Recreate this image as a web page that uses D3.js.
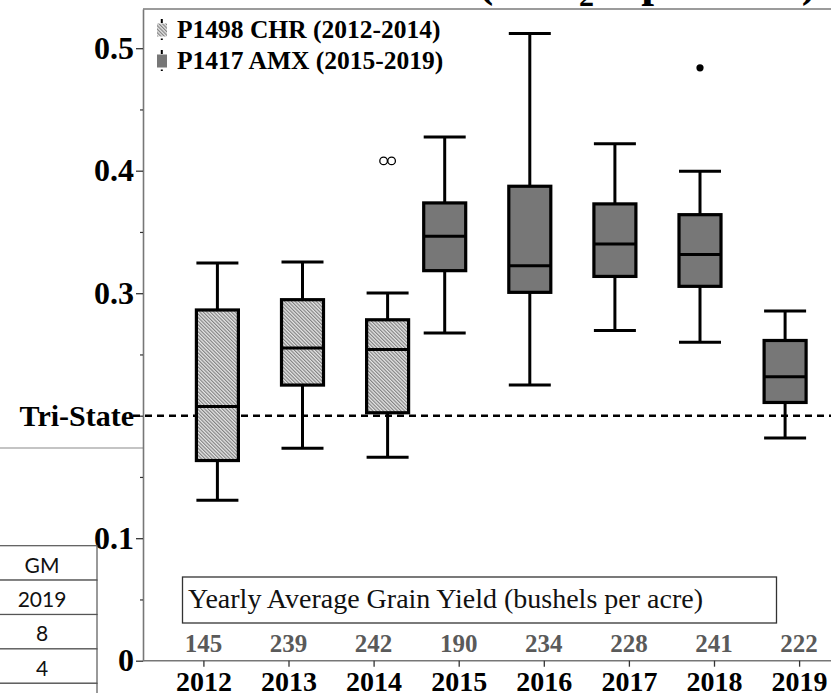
<!DOCTYPE html>
<html>
<head>
<meta charset="utf-8">
<script src="https://cdn.jsdelivr.net/npm/d3@7"></script>
<style>
  html, body { margin: 0; padding: 0; background: #fff; }
  svg { display: block; }
</style>
</head>
<body>
<script>
// ---- data ----
const years = ["2012", "2013", "2014", "2015", "2016", "2017", "2018", "2019"];
const hybrid = ["P1498 CHR", "P1498 CHR", "P1498 CHR", "P1417 AMX", "P1417 AMX", "P1417 AMX", "P1417 AMX", "P1417 AMX"];
const whiskerLow  = [0.131, 0.1735, 0.166, 0.2675, 0.225, 0.2696, 0.260, 0.1817];
const q1          = [0.1634, 0.225, 0.2024, 0.3184, 0.3007, 0.3137, 0.3056, 0.2108];
const median      = [0.2075, 0.2552, 0.2541, 0.3464, 0.3225, 0.3402, 0.3315, 0.2318];
const q3          = [0.2863, 0.2947, 0.2783, 0.3737, 0.3873, 0.3729, 0.3641, 0.2614];
const whiskerHigh = [0.3247, 0.3255, 0.3002, 0.4276, 0.5120, 0.4219, 0.3995, 0.2855];
const outlierYear  = ["2014", "2014", "2018"];
const outlierValue = [0.408, 0.408, 0.484];
const outlierKind  = ["open", "open", "filled"];
const yieldAvg = [145, 239, 242, 190, 234, 228, 241, 222];
const triState = 0.2;
const yMajor = [0, 0.1, 0.2, 0.3, 0.4, 0.5];
const yMinor = [0.05, 0.15, 0.25, 0.35, 0.45];
const hybrids = ["P1417 AMX", "P1498 CHR"];
const legendLabels = ["P1498 CHR (2012-2014)", "P1417 AMX (2015-2019)"];
const tableCells = ["GM", "2019", "8", "4", ""];

// ---- layout ----
const W = 831, H = 693;
const serif = "'Liberation Serif', 'Times New Roman', serif";
const svg = d3.select("body").append("svg").attr("width", W).attr("height", H);

const y = d3.scaleLinear().domain([0, 0.532]).range([660.7, 9]);
const x = d3.scalePoint().domain(years).range([203.4, 799.1]);
const dodge = d3.scalePoint().domain(hybrids).range([-14, 14]);
const boxW = 42;
const plotLeft = 143;

const defs = svg.append("defs");
const hatch = defs.append("pattern")
  .attr("id", "hatch").attr("patternUnits", "userSpaceOnUse")
  .attr("width", 2.5).attr("height", 2.5)
  .attr("patternTransform", "rotate(-45)");
hatch.append("rect").attr("width", 2.5).attr("height", 2.5).attr("fill", "#e6e6e6");
hatch.append("line").attr("x1", 0.6).attr("x2", 0.6).attr("y1", 0).attr("y2", 2.5)
  .attr("stroke", "#7c7c7c").attr("stroke-width", 1.1);

const fillFor = h => h === "P1498 CHR" ? "url(#hatch)" : "#777777";

// panel title, running above the top edge of the panel
svg.append("text")
  .attr("x", 817).attr("y", -4).attr("text-anchor", "end")
  .attr("font-family", serif).attr("font-weight", "bold").attr("font-size", 46)
  .call(t => {
    t.append("tspan").text("(lb K");
    t.append("tspan").attr("font-size", 30).attr("dy", 10).text("2");
    t.append("tspan").attr("dy", -10).text("O per acre)");
  });

// frame lines
svg.append("line").attr("x1", plotLeft).attr("x2", W).attr("y1", 9).attr("y2", 9)
  .attr("stroke", "#7a7a7a").attr("stroke-width", 1.5);
svg.append("line").attr("x1", 0).attr("x2", plotLeft).attr("y1", 448).attr("y2", 448)
  .attr("stroke", "#8a8a8a").attr("stroke-width", 1.2);

// y axis
const yAxis = svg.append("g").attr("transform", `translate(${plotLeft},0)`)
  .call(d3.axisLeft(y).tickValues(yMajor).tickSize(7).tickSizeOuter(0).tickPadding(2)
    .tickFormat(d => d === triState ? "Tri-State" : (d === 0 ? "0" : d3.format(".1f")(d))));
yAxis.select(".domain").attr("stroke", "#777").attr("stroke-width", 1.6);
yAxis.selectAll(".tick line").attr("stroke", "#333").attr("stroke-width", 1.3);
yAxis.selectAll(".tick text").attr("font-family", serif).attr("font-weight", "bold")
  .attr("font-size", d => d === triState ? 30 : 32).attr("fill", "#000");
svg.append("g").attr("transform", `translate(${plotLeft},0)`)
  .call(d3.axisLeft(y).tickValues(yMinor).tickSize(3).tickFormat(""))
  .call(g => g.select(".domain").remove())
  .selectAll(".tick line").attr("stroke", "#333").attr("stroke-width", 1.2);

// x axis
svg.append("line").attr("x1", plotLeft).attr("x2", W).attr("y1", y(0)).attr("y2", y(0))
  .attr("stroke", "#777").attr("stroke-width", 1.6);
const xAxis = svg.append("g").attr("transform", `translate(0,${y(0)})`)
  .call(d3.axisBottom(x).tickSize(6).tickSizeOuter(0));
xAxis.select(".domain").remove();
xAxis.selectAll(".tick line").attr("stroke", "#333").attr("stroke-width", 1.3);
xAxis.selectAll(".tick text").attr("y", 30).attr("dy", 0)
  .attr("font-family", serif).attr("font-weight", "bold").attr("font-size", 28).attr("fill", "#000");

// Tri-State reference line
svg.append("line").attr("x1", 133).attr("x2", W).attr("y1", y(triState)).attr("y2", y(triState))
  .attr("stroke", "#000").attr("stroke-width", 2.6).attr("stroke-dasharray", "7,5");

// boxes
const rows = years.map((yr, i) => ({
  yr, h: hybrid[i], lo: whiskerLow[i], q1: q1[i], med: median[i], q3: q3[i], hi: whiskerHigh[i],
  cx: x(yr) + dodge(hybrid[i])
}));
const box = svg.append("g").selectAll("g").data(rows).join("g");
box.append("line").attr("x1", d => d.cx).attr("x2", d => d.cx)
  .attr("y1", d => y(d.hi)).attr("y2", d => y(d.lo))
  .attr("stroke", "#000").attr("stroke-width", 3);
box.selectAll(".cap").data(d => [d.lo, d.hi].map(v => ({ v, cx: d.cx }))).join("line")
  .attr("x1", d => d.cx - boxW / 2).attr("x2", d => d.cx + boxW / 2)
  .attr("y1", d => y(d.v)).attr("y2", d => y(d.v))
  .attr("stroke", "#000").attr("stroke-width", 3);
box.append("rect")
  .attr("x", d => d.cx - boxW / 2).attr("width", boxW)
  .attr("y", d => y(d.q3)).attr("height", d => y(d.q1) - y(d.q3))
  .attr("fill", d => fillFor(d.h)).attr("stroke", "#000").attr("stroke-width", 3.2);
box.append("line").attr("x1", d => d.cx - boxW / 2).attr("x2", d => d.cx + boxW / 2)
  .attr("y1", d => y(d.med)).attr("y2", d => y(d.med))
  .attr("stroke", "#000").attr("stroke-width", 3);

// outliers (points sharing a value are spread sideways)
const outl = outlierYear.map((yr, i) => {
  const same = outlierYear.filter((o, j) => o === yr && outlierValue[j] === outlierValue[i]);
  const k = outlierYear.slice(0, i).filter((o, j) => o === yr && outlierValue[j] === outlierValue[i]).length;
  const h = hybrid[years.indexOf(yr)];
  return { cx: x(yr) + dodge(h) + (k - (same.length - 1) / 2) * 8, v: outlierValue[i], kind: outlierKind[i] };
});
svg.append("g").selectAll("circle").data(outl).join("circle")
  .attr("cx", d => d.cx).attr("cy", d => y(d.v))
  .attr("r", d => d.kind === "open" ? 3.8 : 3.6)
  .attr("fill", d => d.kind === "open" ? "none" : "#000")
  .attr("stroke", "#000").attr("stroke-width", d => d.kind === "open" ? 1.3 : 0);

// yield caption box and values
svg.append("rect").attr("x", 182.5).attr("y", 577).attr("width", 594).attr("height", 46)
  .attr("fill", "#fff").attr("stroke", "#333").attr("stroke-width", 1.3);
svg.append("text").attr("x", 188).attr("y", 608)
  .attr("font-family", serif).attr("font-size", 28).attr("fill", "#111")
  .text("Yearly Average Grain Yield (bushels per acre)");
svg.append("g").selectAll("text").data(years).join("text")
  .attr("x", d => x(d)).attr("y", 652).attr("text-anchor", "middle")
  .attr("font-family", serif).attr("font-weight", "bold").attr("font-size", 25).attr("fill", "#5a5a5a")
  .text((d, i) => yieldAvg[i]);

// legend
const leg = svg.append("g").selectAll("g").data(legendLabels).join("g")
  .attr("transform", (d, i) => `translate(0,${i * 31})`);
leg.append("line").attr("x1", 161.8).attr("x2", 161.8).attr("y1", 19).attr("y2", 40)
  .attr("stroke", "#000").attr("stroke-width", 2).attr("stroke-dasharray", "4,2.5");
leg.append("rect").attr("x", 157).attr("y", 23.5).attr("width", 10).attr("height", 13)
  .attr("fill", (d, i) => fillFor(hybrids[1 - i]));
leg.append("text").attr("x", 177).attr("y", 37.5)
  .attr("font-family", serif).attr("font-weight", "bold").attr("font-size", 25.5).attr("fill", "#000")
  .text(d => d);

// neighbouring table at the lower left
const table = svg.append("g");
table.selectAll("rect").data(tableCells).join("rect")
  .attr("x", -14).attr("y", (d, i) => 545.7 + i * 34.4).attr("width", 111).attr("height", 34.4)
  .attr("fill", "#fff").attr("stroke", "#555").attr("stroke-width", 1.2);
table.selectAll("text").data(tableCells).join("text")
  .attr("x", 42).attr("y", (d, i) => 572.5 + i * 34.4).attr("text-anchor", "middle")
  .attr("font-family", "Lato, 'Open Sans', sans-serif").attr("font-size", 21).attr("fill", "#111")
  .text(d => d);
</script>
</body>
</html>
